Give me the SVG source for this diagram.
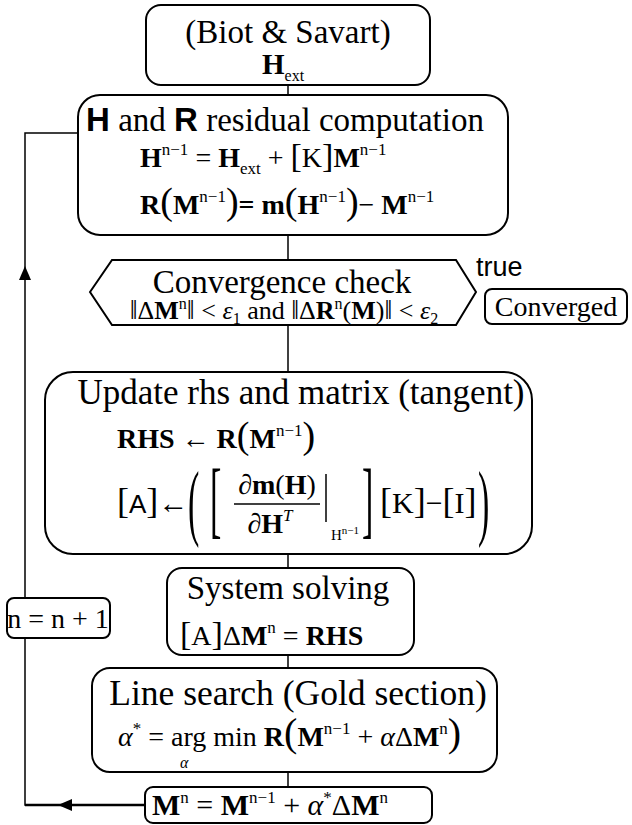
<svg xmlns="http://www.w3.org/2000/svg" width="632" height="825" viewBox="0 0 632 825">
<style>
.t{font-family:"Liberation Serif","Times New Roman",serif;fill:#000}
.s{font-family:"Liberation Sans",Arial,sans-serif;fill:#000}
.title{font-size:33px}
.eq{font-size:28px}
.b{font-weight:bold}
.i{font-style:italic}
.sup{font-size:17px}
.box{fill:#fff;stroke:#000;stroke-width:2}
.conn{stroke:#000;stroke-width:1.5;fill:none}
.arr{fill:#000;stroke:none}
.bar{font-size:28px}
</style>
<rect width="632" height="825" fill="#fff"/>
<g id="connectors">
<line class="conn" x1="288" y1="85" x2="288" y2="95"/>
<line class="conn" x1="288" y1="235" x2="288" y2="260"/>
<line class="conn" x1="288" y1="325" x2="288" y2="372"/>
<line class="conn" x1="288" y1="554" x2="288" y2="568"/>
<line class="conn" x1="288" y1="655" x2="288" y2="668"/>
<line class="conn" x1="288" y1="772" x2="288" y2="787"/>
<path class="conn" d="M145,805 H25 V133 H78"/>
<path class="conn" d="M145,805 H25" style="stroke-width:2.5"/>
<polygon class="arr" points="58,805 72,799 72,811"/>
<polygon class="arr" points="25,266 19,280 31,280"/>
</g>
<g id="biot">
<rect class="box" x="146" y="5" width="284" height="80" rx="15"/>
<text class="t title" x="288" y="43" text-anchor="middle">(Biot &amp; Savart)</text>
<text class="t" x="262" y="74" font-size="29"><tspan class="b">H</tspan><tspan font-size="16" dy="7">ext</tspan></text>
</g>
<g id="residual">
<rect class="box" x="78" y="95" width="430" height="140" rx="22"/>
<text class="t title" x="285" y="131" text-anchor="middle"><tspan class="s b">H</tspan> and <tspan class="s b">R</tspan> residual computation</text>
<text class="t eq" x="140" y="167"><tspan class="b">H</tspan><tspan class="sup" dy="-12">n−1</tspan><tspan dy="12"> = </tspan><tspan class="b">H</tspan><tspan class="sup" dy="7">ext</tspan><tspan dy="-7"> + </tspan><tspan font-size="34">[</tspan>K<tspan font-size="34">]</tspan><tspan class="b">M</tspan><tspan class="sup" dy="-12">n−1</tspan></text>
<text class="t eq" x="140" y="214"><tspan class="b">R</tspan><tspan font-size="38">(</tspan><tspan class="b">M</tspan><tspan class="sup" dy="-12">n−1</tspan><tspan font-size="38" dy="12">)</tspan><tspan class="b">= m</tspan><tspan font-size="38">(</tspan><tspan class="b">H</tspan><tspan class="sup" dy="-12">n−1</tspan><tspan font-size="38" dy="12">)</tspan>− <tspan class="b">M</tspan><tspan class="sup" dy="-12">n−1</tspan></text>
</g>
<g id="convergence">
<polygon class="box" points="90,292 112,260 456,260 476,292 456,325 112,325"/>
<text class="t title" x="282" y="293" text-anchor="middle">Convergence check</text>
<text class="t" x="284" y="319" font-size="26" text-anchor="middle"><tspan class="bar">‖</tspan>Δ<tspan class="b">M</tspan><tspan font-size="16" dy="-10">n</tspan><tspan class="bar" dy="10">‖</tspan> &lt; <tspan class="i">ε</tspan><tspan font-size="16" dy="5">1</tspan><tspan dy="-5"> and </tspan><tspan class="bar">‖</tspan>Δ<tspan class="b">R</tspan><tspan font-size="16" dy="-10">n</tspan><tspan dy="10">(</tspan><tspan class="b">M</tspan>)<tspan class="bar">‖</tspan> &lt; <tspan class="i">ε</tspan><tspan font-size="16" dy="5">2</tspan></text>
</g>
<g id="true-label">
<text class="s" x="476" y="276" font-size="27">true</text>
</g>
<g id="converged">
<rect class="box" x="485" y="289" width="142" height="35" rx="7"/>
<text class="t" x="556" y="316" font-size="28" text-anchor="middle">Converged</text>
</g>
<g id="update">
<rect class="box" x="45" y="372" width="487" height="182" rx="28"/>
<text class="t" x="301" y="404" font-size="35" text-anchor="middle">Update rhs and matrix (tangent)</text>
<text class="t eq" x="117" y="448"><tspan class="b">RHS</tspan> ← <tspan class="b">R</tspan><tspan font-size="38">(</tspan><tspan class="b">M</tspan><tspan class="sup" dy="-12">n−1</tspan><tspan font-size="38" dy="12">)</tspan></text>
<text class="t" x="117" y="513" font-size="30"><tspan font-size="36">[</tspan><tspan class="s" font-size="26">A</tspan><tspan font-size="36">]</tspan>←</text>
<text class="t" x="188" y="212" font-size="34" transform="scale(1,2.5)">(</text>
<text class="t" x="210" y="211.2" font-size="34" transform="scale(1,2.5)">[</text>
<text class="t eq" x="277" y="494" text-anchor="middle">∂<tspan class="b">m</tspan>(<tspan class="b">H</tspan>)</text>
<line x1="234" y1="504" x2="320" y2="504" stroke="#000" stroke-width="1.5"/>
<text class="t eq" x="270" y="533" text-anchor="middle">∂<tspan class="b">H</tspan><tspan class="i" font-size="17" dy="-12">T</tspan></text>
<line x1="326" y1="474" x2="326" y2="522" stroke="#000" stroke-width="1.5"/>
<text class="t" x="331" y="540" font-size="15">H<tspan font-size="11" dy="-6">n−1</tspan></text>
<text class="t" x="362" y="211.2" font-size="34" transform="scale(1,2.5)">]</text>
<text class="t" x="380" y="513" font-size="30"><tspan font-size="36">[</tspan>K<tspan font-size="36">]</tspan>−<tspan font-size="36">[</tspan>I<tspan font-size="36">]</tspan></text>
<text class="t" x="478" y="212" font-size="34" transform="scale(1,2.5)">)</text>
</g>
<g id="solve">
<rect class="box" x="167" y="568" width="247" height="87" rx="15"/>
<text class="t title" x="288" y="599" text-anchor="middle">System solving</text>
<text class="t eq" x="180" y="645"><tspan font-size="34">[</tspan>A<tspan font-size="34">]</tspan>Δ<tspan class="b">M</tspan><tspan class="sup" dy="-12">n</tspan><tspan dy="12"> = </tspan><tspan class="b">RHS</tspan></text>
</g>
<g id="linesearch">
<rect class="box" x="92" y="668" width="405" height="104" rx="18"/>
<text class="t" x="298" y="705" font-size="35.5" text-anchor="middle">Line search (Gold section)</text>
<text class="t eq" x="118" y="746"><tspan class="i">α</tspan><tspan class="sup" dy="-12">*</tspan><tspan dy="12"> = arg min </tspan><tspan class="b">R</tspan><tspan font-size="40">(</tspan><tspan class="b">M</tspan><tspan class="sup" dy="-12">n−1</tspan><tspan dy="12"> + </tspan><tspan class="i">α</tspan>Δ<tspan class="b">M</tspan><tspan class="sup" dy="-12">n</tspan><tspan font-size="40" dy="12">)</tspan></text>
<text class="t i" x="180" y="768" font-size="16">α</text>
</g>
<g id="update-m">
<rect class="box" x="145" y="787" width="287" height="36" rx="8"/>
<text class="t" x="152" y="815" font-size="30"><tspan class="b">M</tspan><tspan class="sup" dy="-12">n</tspan><tspan dy="12"> = </tspan><tspan class="b">M</tspan><tspan class="sup" dy="-12">n−1</tspan><tspan dy="12"> + </tspan><tspan class="i">α</tspan><tspan class="sup" dy="-12">*</tspan><tspan dy="12">Δ</tspan><tspan class="b">M</tspan><tspan class="sup" dy="-12">n</tspan></text>
</g>
<g id="increment">
<rect class="box" x="7" y="598" width="103" height="40" rx="7"/>
<text class="t" x="58" y="628" font-size="28" text-anchor="middle">n = n + 1</text>
</g>
</svg>
